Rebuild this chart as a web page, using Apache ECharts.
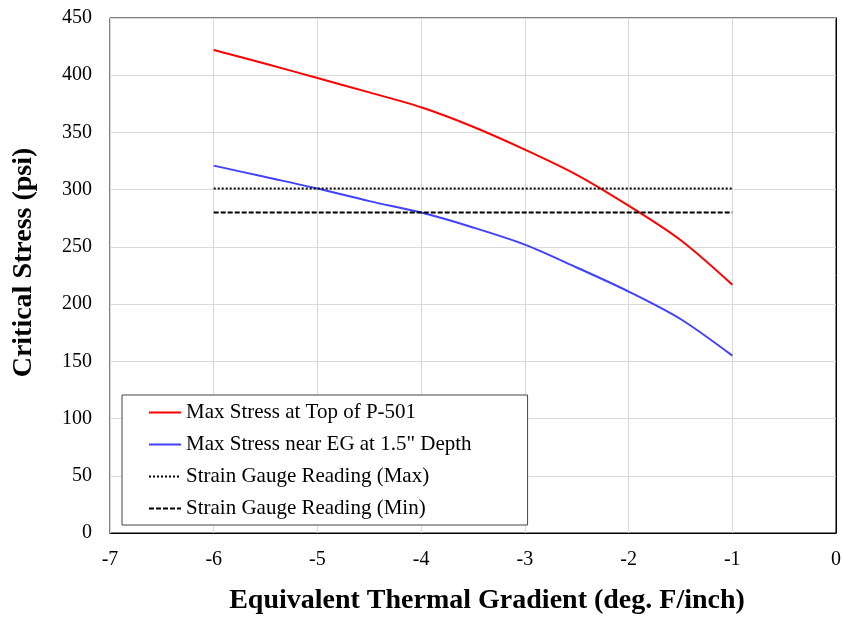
<!DOCTYPE html>
<html>
<head>
<meta charset="utf-8">
<script src="https://cdn.jsdelivr.net/npm/echarts@6/dist/echarts.min.js"></script>
<style>
  html, body { margin: 0; padding: 0; background: #fff; }
  #main { width: 844px; height: 621px; }
</style>
</head>
<body>
<div id="main"></div>
<script>
// gradient values (deg. F/inch)
var gradient = [-6, -5.5, -5, -4.5, -4, -3.5, -3, -2.5, -2, -1.5, -1];
// critical stress (psi)
var topP501 = [422, 410, 397.5, 385, 372, 355, 335, 313, 286, 256, 217];
var nearEG = [321, 311, 301, 290, 280, 267, 252, 232, 211, 187, 155];
// strain gauge readings
var gaugeX = [-6, -1];
var gaugeMax = [301, 301];
var gaugeMin = [280, 280];

var names = [
  'Max Stress at Top of P-501',
  'Max Stress near EG at 1.5" Depth',
  'Strain Gauge Reading (Max)',
  'Strain Gauge Reading (Min)'
];

function pairs(xs, ys) {
  return xs.map(function (x, i) { return [x, ys[i]]; });
}

var font = '"Liberation Serif", "Times New Roman", serif';
var chart = echarts.init(document.getElementById('main'));

var option = {
  animation: false,
  textStyle: { fontFamily: font },
  grid: { left: 110, right: 8, top: 18, bottom: 88, show: true, borderColor: '#000', borderWidth: 1 },
  legend: {
    orient: 'vertical',
    left: 122,
    top: 395,
    data: names,
    itemWidth: 32,
    itemHeight: 14,
    itemGap: 11,
    padding: [7, 56, 6, 26],
    backgroundColor: '#fff',
    borderColor: '#444',
    borderWidth: 1,
    itemStyle: { opacity: 0 },
    textStyle: { fontFamily: font, fontSize: 21, color: '#000' }
  },
  xAxis: {
    type: 'value',
    min: -7,
    max: 0,
    interval: 1,
    name: 'Equivalent Thermal Gradient (deg. F/inch)',
    nameLocation: 'middle',
    nameGap: 54,
    nameTextStyle: { fontFamily: font, fontSize: 28, fontWeight: 'bold', color: '#000', padding: [0, 0, 0, 28] },
    axisLine: { onZero: false, lineStyle: { color: '#000', width: 1 } },
    axisTick: { show: false },
    axisLabel: { margin: 17, fontFamily: font, fontSize: 20, color: '#000' },
    splitLine: { show: true, lineStyle: { color: '#d9d9d9', width: 1 } }
  },
  yAxis: {
    type: 'value',
    min: 0,
    max: 450,
    interval: 50,
    name: 'Critical Stress (psi)',
    nameLocation: 'middle',
    nameGap: 72,
    nameTextStyle: { fontFamily: font, fontSize: 28, fontWeight: 'bold', color: '#000', padding: [0, 0, 0, 26] },
    axisLine: { show: true, lineStyle: { color: '#000', width: 1 } },
    axisTick: { show: false },
    axisLabel: { margin: 18, fontFamily: font, fontSize: 20, color: '#000' },
    splitLine: { show: true, lineStyle: { color: '#d9d9d9', width: 1 } }
  },
  series: [
    {
      name: names[0],
      type: 'line',
      data: pairs(gradient, topP501),
      symbol: 'none',
      smooth: 0.3,
      lineStyle: { color: '#ff0000', width: 2 },
      itemStyle: { color: '#ff0000' }
    },
    {
      name: names[1],
      type: 'line',
      data: pairs(gradient, nearEG),
      symbol: 'none',
      smooth: 0.3,
      lineStyle: { color: '#4040ff', width: 2 },
      itemStyle: { color: '#4040ff' }
    },
    {
      name: names[2],
      type: 'line',
      data: pairs(gaugeX, gaugeMax),
      symbol: 'none',
      lineStyle: { color: '#000', width: 2, type: [2, 2] },
      itemStyle: { color: '#000' }
    },
    {
      name: names[3],
      type: 'line',
      data: pairs(gaugeX, gaugeMin),
      symbol: 'none',
      lineStyle: { color: '#000', width: 2, type: [5, 2] },
      itemStyle: { color: '#000' }
    }
  ]
};

chart.setOption(option);
</script>
</body>
</html>
